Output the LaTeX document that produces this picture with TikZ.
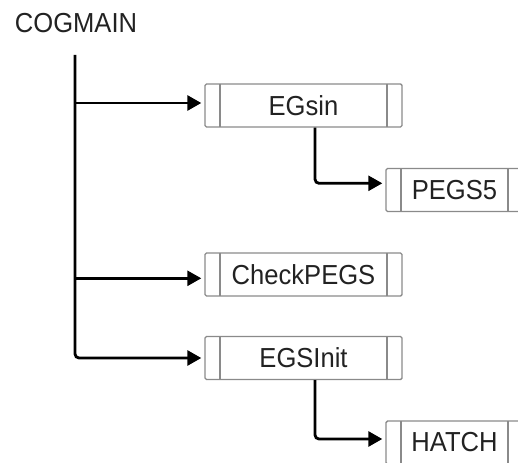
\documentclass[tikz,border=0pt]{standalone}
\usepackage{fontspec}
\setmainfont[FakeStretch=0.93]{Liberation Sans}
\usetikzlibrary{arrows.meta}
\definecolor{boxgray}{HTML}{8A8A8A}
\definecolor{txt}{HTML}{222222}
\tikzset{
  prbox/.style={draw=boxgray, line width=1.4pt, rounded corners=1.5pt,
    minimum height=43pt, inner sep=0pt, text=txt,
    font=\fontsize{27.5}{30}\selectfont,
    path picture={
      \draw[boxgray, line width=1.4pt]
        ([xshift=15pt]path picture bounding box.north west) -- ([xshift=15pt]path picture bounding box.south west)
        ([xshift=-15pt]path picture bounding box.north east) -- ([xshift=-15pt]path picture bounding box.south east);
    }},
  conn/.style={line width=2.8pt, black, rounded corners=4pt,
    -{Triangle[length=14pt,width=15pt]}, shorten >=3pt},
  title/.style={text=txt, font=\fontsize{27.5}{30}\selectfont, inner sep=0pt}
}
\begin{document}
\begin{tikzpicture}[x=1pt,y=-1pt]
\useasboundingbox (0,0) rectangle (518,462);
\clip (0,0) rectangle (518,462);
\node[title] (cog) at (76,23) {COGMAIN};
\coordinate (t) at (75,55);
\node[prbox, minimum width=197pt] (egsin) at (303.5,105.5) {EGsin};
\node[prbox, minimum width=137pt] (pegs) at (454.5,190) {PEGS5};
\node[prbox, minimum width=197pt] (check) at (303.5,274.5) {CheckPEGS};
\node[prbox, minimum width=197pt] (init) at (303.5,358) {EGSInit};
\node[prbox, minimum width=137pt] (hatch) at (454.5,442.5) {HATCH};
\coordinate (eIn) at ([yshift=2.5pt]egsin.west);
\coordinate (cIn) at ([yshift=-3.8pt]check.west);
\coordinate (pIn) at ([yshift=6.7pt]pegs.west);
\coordinate (hIn) at ([yshift=3.5pt]hatch.west);
\coordinate (eOut) at ([xshift=11.5pt]egsin.south);
\coordinate (iOut) at ([xshift=11.5pt]init.south);
\draw[conn] (t) |- (init.west);
\draw[conn, rounded corners=0pt] (t |- eIn) -- (eIn);
\draw[conn, rounded corners=0pt] (t |- cIn) -- (cIn);
\draw[conn] (eOut) |- (pIn);
\draw[conn] (iOut) |- (hIn);
\end{tikzpicture}
\end{document}
